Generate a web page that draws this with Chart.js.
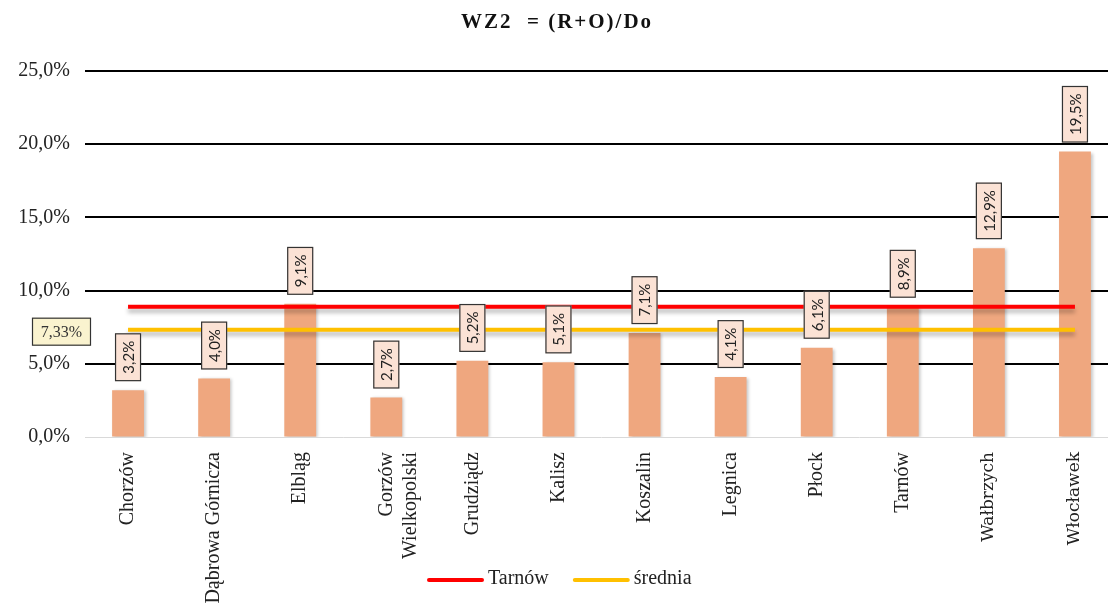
<!DOCTYPE html>
<html>
<head>
<meta charset="utf-8">
<title>WZ2 = (R+O)/Do</title>
<script src="https://cdn.jsdelivr.net/npm/chart.js@4.4.1/dist/chart.umd.min.js"></script>
<style>
  html, body { margin: 0; padding: 0; background: #fff; overflow: hidden; }
  #wrap { width: 1120px; height: 608px; position: relative; }
</style>
</head>
<body>
<div id="wrap"><canvas id="c" width="1120" height="608"></canvas></div>
<script>
// Cities compared
const cities = [
  'Chorzów', 'Dąbrowa Górnicza', 'Elbląg', ['Gorzów', 'Wielkopolski'], 'Grudziądz',
  'Kalisz', 'Koszalin', 'Legnica', 'Płock', 'Tarnów', 'Wałbrzych', 'Włocławek'
];
// WZ2 indicator per city, in percent
const wz2Values = [3.2, 4.0, 9.1, 2.7, 5.2, 5.1, 7.1, 4.1, 6.1, 8.9, 12.9, 19.5];
// Reference level for Tarnów, across all cities
const tarnowLine = [8.9, 8.9, 8.9, 8.9, 8.9, 8.9, 8.9, 8.9, 8.9, 8.9, 8.9, 8.9];
// Average of all cities
const sredniaLine = [7.33, 7.33, 7.33, 7.33, 7.33, 7.33, 7.33, 7.33, 7.33, 7.33, 7.33, 7.33];
const sredniaLabel = '7,33%';
// Y axis ticks
const yTicks = [0, 5, 10, 15, 20, 25];

const legendItems = [
  { text: 'Tarnów', color: '#FF0000' },
  { text: 'średnia', color: '#FFC000' }
];

const fmt = v => v.toFixed(1).replace('.', ',') + '%';

// Soft drop shadows under bars and lines
const shadowPlugin = {
  id: 'shadows',
  beforeDatasetDraw(chart, args) {
    const ctx = chart.ctx;
    ctx.save();
    if (args.meta.type === 'bar') {
      ctx.shadowColor = 'rgba(0,0,0,0.22)';
      ctx.shadowBlur = 3;
      ctx.shadowOffsetX = 2;
      ctx.shadowOffsetY = 1;
    } else {
      ctx.shadowColor = 'rgba(0,0,0,0.28)';
      ctx.shadowBlur = 4;
      ctx.shadowOffsetX = 0;
      ctx.shadowOffsetY = 4;
    }
  },
  afterDatasetDraw(chart) {
    chart.ctx.restore();
  }
};

// Title, boxed value labels, average label and legend
const decorPlugin = {
  id: 'decor',
  afterDatasetsDraw(chart) {
    const ctx = chart.ctx;
    const ys = chart.scales.y;

    // value labels above bars, rotated
    const meta = chart.getDatasetMeta(0);
    ctx.save();
    ctx.font = '15px Lato, "Open Sans", sans-serif';
    meta.data.forEach((bar, i) => {
      const txt = fmt(wz2Values[i]);
      const tw = ctx.measureText(txt).width;
      const boxH = tw + 15;   // along vertical
      const boxW = 26;
      const bottom = bar.y - 9;
      const left = bar.x - boxW / 2;
      const top = bottom - boxH;
      ctx.fillStyle = '#FBE2D5';
      ctx.fillRect(left, top, boxW, boxH);
      ctx.strokeStyle = '#333';
      ctx.lineWidth = 1.2;
      ctx.strokeRect(left + 0.5, top + 0.5, boxW - 1, boxH - 1);
      ctx.save();
      ctx.translate(bar.x, top + boxH / 2);
      ctx.rotate(-Math.PI / 2);
      ctx.fillStyle = '#222';
      ctx.textAlign = 'center';
      ctx.textBaseline = 'middle';
      ctx.fillText(txt, 0, 1);
      ctx.restore();
    });
    ctx.restore();

    // average label at the left
    const ay = ys.getPixelForValue(sredniaLine[0]) + 2;
    ctx.save();
    ctx.fillStyle = '#FAF3CF';
    ctx.fillRect(32, ay - 14, 59, 28);
    ctx.strokeStyle = '#333';
    ctx.lineWidth = 1.2;
    ctx.strokeRect(32.5, ay - 13.5, 58, 27);
    ctx.fillStyle = '#333';
    ctx.font = '16px "Liberation Serif", "Times New Roman", serif';
    ctx.textAlign = 'center';
    ctx.textBaseline = 'middle';
    ctx.fillText(sredniaLabel, 61.5, ay + 1);
    ctx.restore();
  },
  afterDraw(chart) {
    const ctx = chart.ctx;
    // title
    ctx.save();
    ctx.font = 'bold 21px "Liberation Serif", "Times New Roman", serif';
    ctx.letterSpacing = '2px';
    ctx.fillStyle = '#111';
    ctx.textAlign = 'center';
    ctx.textBaseline = 'middle';
    ctx.fillText('WZ2  = (R+O)/Do', 557, 23);
    ctx.restore();

    // legend
    ctx.save();
    ctx.font = '20px "Liberation Serif", "Times New Roman", serif';
    ctx.textBaseline = 'middle';
    let x = 429;
    const y = 580;
    legendItems.forEach(item => {
      ctx.strokeStyle = item.color;
      ctx.lineWidth = 4;
      ctx.lineCap = 'round';
      ctx.beginPath();
      ctx.moveTo(x, y);
      ctx.lineTo(x + 53, y);
      ctx.stroke();
      ctx.fillStyle = '#222';
      ctx.fillText(item.text, x + 59, y - 1);
      x += 59 + ctx.measureText(item.text).width + 26;
    });
    ctx.restore();
  }
};

new Chart(document.getElementById('c'), {
  data: {
    labels: cities,
    datasets: [
      {
        type: 'bar',
        label: 'WZ2',
        data: wz2Values,
        backgroundColor: '#EFA77F',
        borderWidth: 0,
        barPercentage: 0.37,
        categoryPercentage: 1,
        order: 2
      },
      {
        type: 'line',
        label: 'Tarnów',
        data: tarnowLine,
        borderColor: '#FF0000',
        borderWidth: 4,
        pointRadius: 0,
        fill: false,
        order: 1
      },
      {
        type: 'line',
        label: 'średnia',
        data: sredniaLine,
        borderColor: '#FFC000',
        borderWidth: 4,
        pointRadius: 0,
        fill: false,
        order: 0
      }
    ]
  },
  options: {
    responsive: false,
    animation: false,
    devicePixelRatio: 1,
    layout: { padding: { top: 71, right: 2, left: 0, bottom: 0 } },
    plugins: {
      legend: { display: false },
      title: { display: false },
      tooltip: { enabled: false }
    },
    scales: {
      x: {
        offset: true,
        grid: { display: false },
        border: { display: false },
        ticks: {
          minRotation: 90,
          maxRotation: 90,
          autoSkip: false,
          padding: 7,
          color: '#222',
          font: (c) => (c.index === 10 || c.index === 11)
            ? { family: '"DejaVu Serif", serif', size: 17 }
            : { family: '"Liberation Serif", "Times New Roman", serif', size: 20 }
        },
        afterFit(scale) { scale.height = 171; }
      },
      y: {
        min: 0,
        max: 25,
        afterBuildTicks(scale) { scale.ticks = yTicks.map(v => ({ value: v })); },
        grid: {
          drawTicks: false,
          color: (c) => c.tick && c.tick.value === 0 ? '#d9d9d9' : '#000',
          lineWidth: (c) => c.tick && c.tick.value === 0 ? 1 : 2
        },
        border: { display: false },
        ticks: {
          padding: 15,
          color: '#222',
          font: { family: '"Liberation Serif", "Times New Roman", serif', size: 20 },
          callback: (v) => fmt(v)
        },
        afterFit(scale) { scale.width = 85; }
      }
    }
  },
  plugins: [shadowPlugin, decorPlugin]
});
</script>
</body>
</html>
